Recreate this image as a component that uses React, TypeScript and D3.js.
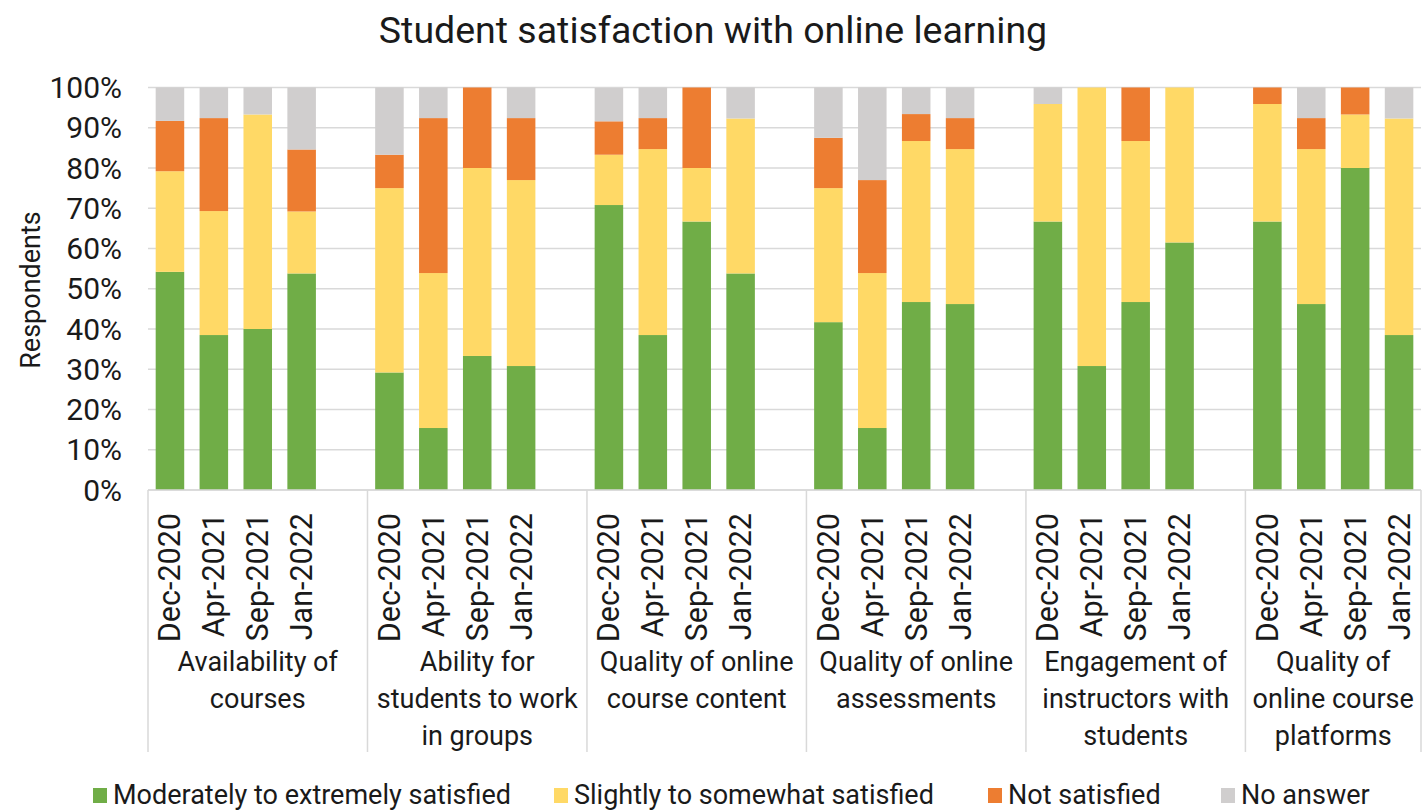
import * as d3 from "d3";
import React, { useMemo } from "react";

const WIDTH = 1424;
const HEIGHT = 812;

const MARGIN = { left: 148, right: 3, top: 87.5, bottom: 322 };

const FONT = "Roboto, 'Noto Sans', sans-serif";
const TEXT = "#1a1a1a";
const GRID = "#d9d9d9";

const TITLE = "Student satisfaction with online learning";

const WAVES = ["Dec-2020", "Apr-2021", "Sep-2021", "Jan-2022"];

const TOPICS = [
  ["Availability of", "courses"],
  ["Ability for", "students to work", "in groups"],
  ["Quality of online", "course content"],
  ["Quality of online", "assessments"],
  ["Engagement of", "instructors with", "students"],
  ["Quality of", "online course", "platforms"],
];

const SERIES = ["Moderately to extremely satisfied", "Slightly to somewhat satisfied", "Not satisfied", "No answer"];
const COLORS = ["#70AD47", "#FFD966", "#ED7D31", "#D0CECE"];

// percent of respondents, 4 waves per topic in order
const moderately = [54.2, 38.5, 40.0, 53.8, 29.2, 15.4, 33.3, 30.8, 70.8, 38.5, 66.7, 53.8, 41.7, 15.4, 46.7, 46.2, 66.7, 30.8, 46.7, 61.5, 66.7, 46.2, 80.0, 38.5];
const slightly = [25.0, 30.8, 53.3, 15.4, 45.8, 38.5, 46.7, 46.2, 12.5, 46.2, 13.3, 38.5, 33.3, 38.5, 40.0, 38.5, 29.2, 69.2, 40.0, 38.5, 29.2, 38.5, 13.3, 53.8];
const notSatisfied = [12.5, 23.1, 0, 15.4, 8.3, 38.5, 20.0, 15.4, 8.3, 7.7, 20.0, 0, 12.5, 23.1, 6.7, 7.7, 0, 0, 13.3, 0, 4.2, 7.7, 6.7, 0];
const noAnswer = [8.3, 7.7, 6.7, 15.4, 16.7, 7.7, 0, 7.7, 8.3, 7.7, 0, 7.7, 12.5, 23.1, 6.7, 7.7, 4.2, 0, 0, 0, 0, 7.7, 0, 7.7];

const LEGEND_X = [93, 554, 988, 1221];

type Row = { key: string; topic: number; wave: number; s0: number; s1: number; s2: number; s3: number };

function Label({ x, y, rotate = 0, anchor = "middle", size, children }: any) {
  return (
    <text
      transform={`translate(${x},${y}) rotate(${rotate})`}
      textAnchor={anchor}
      dominantBaseline="central"
      fontFamily={FONT}
      fontSize={size}
      fill={TEXT}
    >
      {children}
    </text>
  );
}

export default function App() {
  const boundsW = WIDTH - MARGIN.left - MARGIN.right;
  const y0 = 490;

  const rows: Row[] = useMemo(() => {
    const out: Row[] = [];
    TOPICS.forEach((_, t) => {
      WAVES.forEach((_, w) => {
        const i = t * WAVES.length + w;
        out.push({ key: `${t}-${w}`, topic: t, wave: w, s0: moderately[i], s1: slightly[i], s2: notSatisfied[i], s3: noAnswer[i] });
      });
    });
    return out;
  }, []);

  // slots: 4 bars per topic, one blank slot between topics
  const slots = useMemo(() => {
    const s: string[] = [];
    TOPICS.forEach((_, t) => {
      WAVES.forEach((_, w) => s.push(`${t}-${w}`));
      if (t < TOPICS.length - 1) s.push(`gap-${t}`);
    });
    return s;
  }, []);

  const xScale = d3
    .scaleBand<string>()
    .domain(slots)
    .range([MARGIN.left, MARGIN.left + boundsW])
    .paddingInner(0.35)
    .paddingOuter(0.175);

  const yScale = d3.scaleLinear().domain([0, 100]).range([y0, MARGIN.top]);

  const stacked = d3.stack<Row>().keys(["s0", "s1", "s2", "s3"])(rows);

  const step = xScale.step();
  const bw = xScale.bandwidth();
  const center = (k: string) => (xScale(k) as number) + bw / 2;
  const groupLeft = (t: number) => center(`${t}-0`) - step / 2;
  const plotRight = MARGIN.left + boundsW;
  // each topic spans its bars plus the blank slot after it
  const groupRight = (t: number) => (t < TOPICS.length - 1 ? groupLeft(t + 1) : plotRight);

  const sepBottom = 752;
  const separators = TOPICS.map((_, t) => groupLeft(t)).concat([plotRight]);

  return (
    <svg width={WIDTH} height={HEIGHT} style={{ position: "absolute", left: 0, top: 0, background: "#fff" }}>
      <Label x={713} y={30} size={37.5}>{TITLE}</Label>

      {/* gridlines */}
      {yScale.ticks(10).map((d) => (
        <g key={d}>
          <line x1={MARGIN.left} x2={plotRight} y1={yScale(d)} y2={yScale(d)} stroke={GRID} strokeWidth={1.5} />
          <Label x={122} y={yScale(d)} anchor="end" size={30}>{`${d}%`}</Label>
        </g>
      ))}

      <Label x={31} y={290} rotate={-90} size={27}>Respondents</Label>

      {/* bars */}
      {stacked.map((layer, si) => (
        <g key={layer.key} fill={COLORS[si]}>
          {layer.map((seg) =>
            seg[1] - seg[0] > 0 ? (
              <rect
                key={seg.data.key}
                x={xScale(seg.data.key)}
                width={bw}
                y={yScale(Math.min(seg[1], 100))}
                height={Math.max(yScale(seg[0]) - yScale(Math.min(seg[1], 100)), 0)}
              />
            ) : null
          )}
        </g>
      ))}

      {/* category axis */}
      <line x1={MARGIN.left} x2={plotRight} y1={y0} y2={y0} stroke={GRID} strokeWidth={1.5} />
      {separators.map((x, i) => (
        <line key={i} x1={x} x2={x} y1={y0} y2={sepBottom} stroke={GRID} strokeWidth={1.5} />
      ))}
      {rows.map((r) => (
        <Label key={r.key} x={center(r.key)} y={513} rotate={-90} anchor="end" size={30.5}>
          {WAVES[r.wave]}
        </Label>
      ))}
      {TOPICS.map((lines, t) => (
        <g key={t}>
          {lines.map((ln, li) => (
            <Label key={li} x={(groupLeft(t) + groupRight(t)) / 2} y={662 + li * 37} size={27}>
              {ln}
            </Label>
          ))}
        </g>
      ))}

      {/* legend */}
      {SERIES.map((s, i) => (
        <g key={s}>
          <rect x={LEGEND_X[i]} y={788} width={14} height={15} fill={COLORS[i]} />
          <Label x={LEGEND_X[i] + 20} y={795} anchor="start" size={27}>{s}</Label>
        </g>
      ))}
    </svg>
  );
}
